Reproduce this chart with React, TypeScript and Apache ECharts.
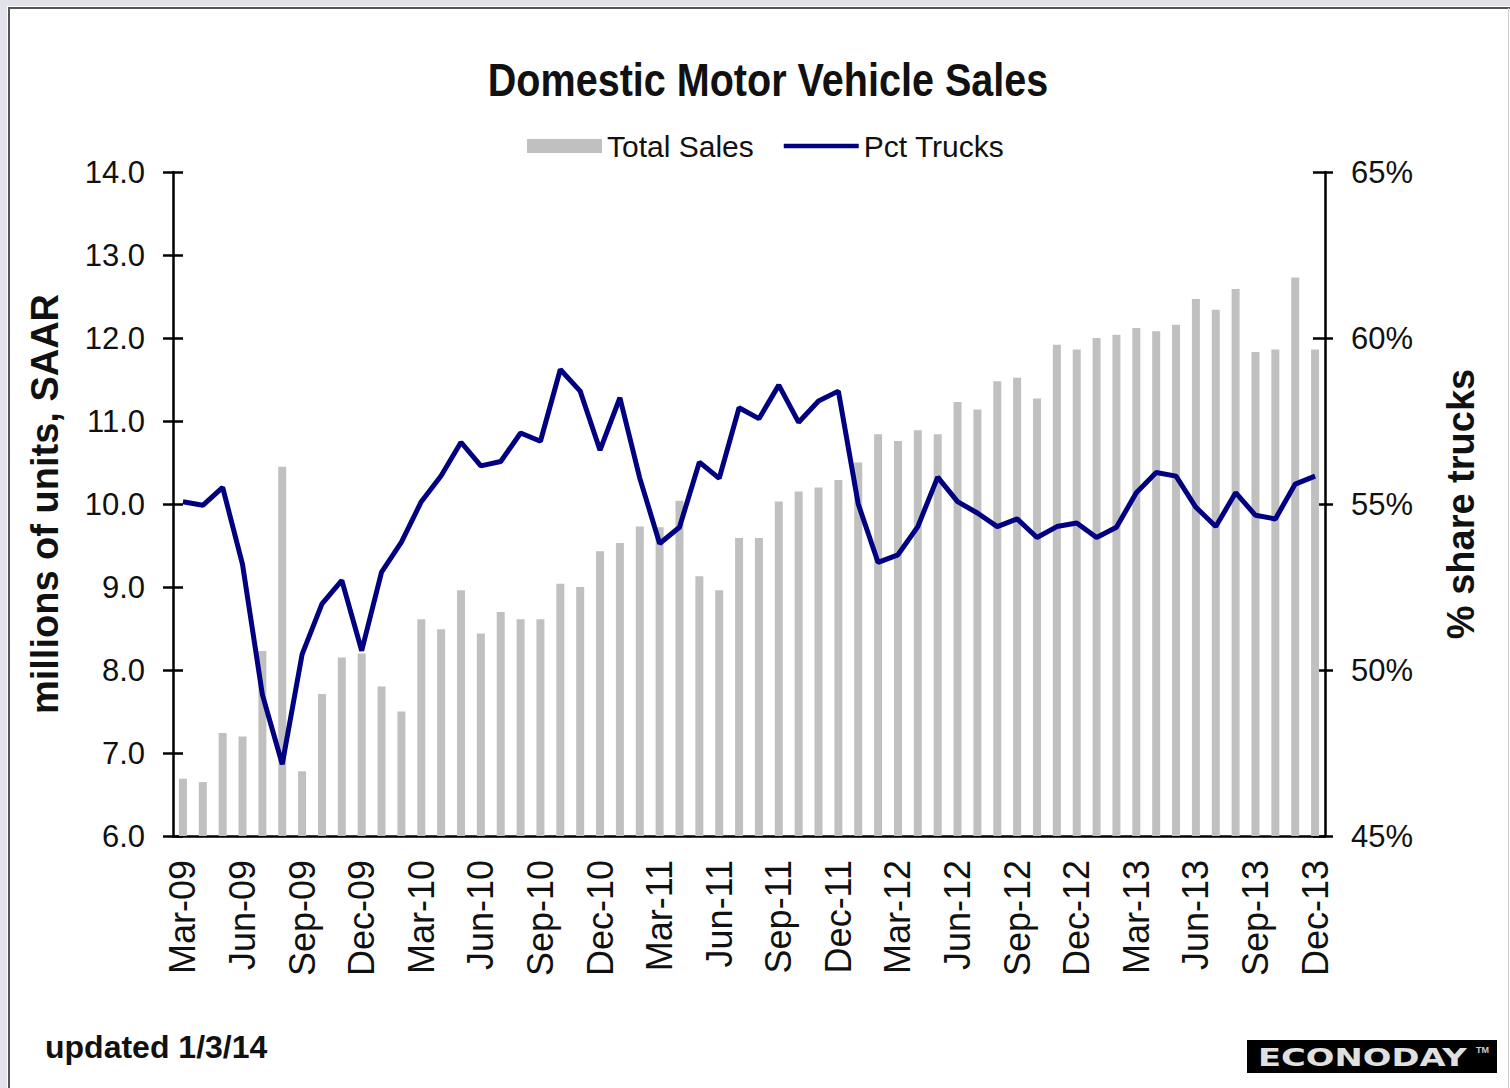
import React, { useEffect, useRef } from "react";
import * as echarts from "echarts";

const MONTHS = ["Jan", "Feb", "Mar", "Apr", "May", "Jun", "Jul", "Aug", "Sep", "Oct", "Nov", "Dec"];
const categories: string[] = [];
for (let y = 2009; y <= 2013; y++) {
  for (let m = 0; m < 12; m++) {
    if (y === 2009 && m < 2) continue;
    categories.push(`${MONTHS[m]}-${String(y).slice(2)}`);
  }
}

// Total sales, millions of units SAAR (Mar-09 .. Dec-13)
const totalSales = [
  6.69, 6.65, 7.24, 7.2, 8.23, 10.45, 6.78, 7.71, 8.15, 8.2,
  7.8, 7.5, 8.61, 8.49, 8.96, 8.44, 8.7, 8.61, 8.61, 9.04,
  9.0, 9.43, 9.53, 9.73, 9.72, 10.04, 9.13, 8.96, 9.59, 9.59,
  10.03, 10.15, 10.2, 10.29, 10.5, 10.84, 10.76, 10.89, 10.84, 11.23,
  11.14, 11.48, 11.52, 11.27, 11.92, 11.86, 12.0, 12.04, 12.12, 12.08,
  12.16, 12.47, 12.34, 12.59, 11.83, 11.86, 12.73, 11.86,
];

// Percent share of trucks
const pctTrucks = [
  55.07, 54.96, 55.5, 53.18, 49.26, 47.16, 50.47, 51.99, 52.7, 50.58,
  52.95, 53.85, 55.07, 55.85, 56.86, 56.15, 56.28, 57.14, 56.89, 59.05,
  58.4, 56.62, 58.2, 55.78, 53.81, 54.3, 56.26, 55.77, 57.9, 57.57,
  58.58, 57.46, 58.1, 58.4, 55.0, 53.24, 53.47, 54.32, 55.81, 55.07,
  54.73, 54.32, 54.55, 53.99, 54.32, 54.43, 53.99, 54.3, 55.34, 55.95,
  55.84, 54.9, 54.32, 55.34, 54.66, 54.55, 55.6, 55.84,
];

const FONT = "'Liberation Sans', Arial, sans-serif";

export default function App() {
  const ref = useRef<HTMLDivElement>(null);

  useEffect(() => {
    if (!ref.current) return;
    const chart = echarts.init(ref.current, null, { renderer: "svg" });
    const axisColor = "#000";
    chart.setOption({
      animation: false,
      backgroundColor: "#fff",
      textStyle: { fontFamily: FONT },
      grid: { left: 173, right: 185, top: 172, bottom: 252, containLabel: false },
      legend: {
        data: [
          { name: "Total Sales", icon: "rect" },
          { name: "Pct Trucks", icon: "path://M0 0H80V5H0Z" },
        ],
        left: 522,
        top: 126,
        itemWidth: 75,
        itemHeight: 14,
        itemGap: 30,
        textStyle: { fontSize: 30, color: "#111", fontFamily: FONT },
      },
      xAxis: [
        {
          type: "category",
          data: categories,
          boundaryGap: true,
          axisLine: { lineStyle: { color: axisColor, width: 2.5 } },
          axisTick: { interval: 2, length: 10, lineStyle: { color: axisColor, width: 2.5 } },
          axisLabel: {
            interval: 2,
            rotate: 90,
            fontSize: 36,
            color: "#111",
            margin: 24,
            fontFamily: FONT,
          },
          splitLine: { show: false },
        },
        {
          type: "category",
          data: categories,
          position: "bottom",
          boundaryGap: true,
          axisLine: { show: false },
          axisTick: { inside: true, interval: 2, length: 10, lineStyle: { color: axisColor, width: 2.5 } },
          axisLabel: { show: false },
          splitLine: { show: false },
        },
      ],
      yAxis: [
        {
          type: "value",
          position: "left",
          min: 6,
          max: 14,
          interval: 1,
          name: "millions of units, SAAR",
          nameLocation: "middle",
          nameRotate: 90,
          nameGap: 109,
          nameTextStyle: { fontSize: 38, fontWeight: "bold", color: "#111", fontFamily: FONT },
          axisLine: { show: true, lineStyle: { color: axisColor, width: 2.5 } },
          axisTick: { show: true, length: 10, lineStyle: { color: axisColor, width: 2.5 } },
          axisLabel: {
            fontSize: 31,
            color: "#111",
            margin: 28,
            fontFamily: FONT,
            formatter: (v: number) => v.toFixed(1),
          },
          splitLine: { show: false },
        },
        {
          type: "value",
          position: "right",
          min: 45,
          max: 65,
          interval: 5,
          name: "% share trucks",
          nameLocation: "middle",
          nameRotate: 90,
          nameGap: 117,
          nameTextStyle: { fontSize: 38, fontWeight: "bold", color: "#111", fontFamily: FONT },
          axisLine: { show: true, lineStyle: { color: axisColor, width: 2.5 } },
          axisTick: { show: true, length: 8, lineStyle: { color: axisColor, width: 2.5 } },
          axisLabel: {
            fontSize: 31,
            color: "#111",
            margin: 26,
            fontFamily: FONT,
            formatter: "{value}%",
          },
          splitLine: { show: false },
        },
        {
          type: "value",
          position: "left",
          min: 6,
          max: 14,
          interval: 1,
          axisLine: { show: false },
          axisTick: { show: true, inside: true, length: 10, lineStyle: { color: axisColor, width: 2.5 } },
          axisLabel: { show: false },
          splitLine: { show: false },
        },
        {
          type: "value",
          position: "right",
          min: 45,
          max: 65,
          interval: 5,
          axisLine: { show: false },
          axisTick: { show: true, inside: true, length: 12, lineStyle: { color: axisColor, width: 2.5 } },
          axisLabel: { show: false },
          splitLine: { show: false },
        },
      ],
      series: [
        {
          name: "Total Sales",
          type: "bar",
          data: totalSales,
          xAxisIndex: 0,
          yAxisIndex: 0,
          barWidth: 8,
          itemStyle: { color: "#c0c0c0" },
          z: 1,
        },
        {
          name: "Pct Trucks",
          type: "line",
          data: pctTrucks,
          xAxisIndex: 0,
          yAxisIndex: 1,
          symbol: "none",
          lineStyle: { color: "#000080", width: 5 },
          itemStyle: { color: "#000080" },
          z: 3,
        },
      ],
      graphic: [
        { type: "rect", shape: { x: 0, y: 0, width: 1510, height: 6 }, style: { fill: "#e2e2ea" }, silent: true },
        { type: "rect", shape: { x: 0, y: 0, width: 7, height: 1088 }, style: { fill: "#e2e2ea" }, silent: true },
        { type: "line", shape: { x1: 8, y1: 8, x2: 1510, y2: 8 }, style: { stroke: "#555", lineWidth: 2 }, silent: true },
        { type: "line", shape: { x1: 9, y1: 8, x2: 9, y2: 1088 }, style: { stroke: "#555", lineWidth: 2 }, silent: true },
        { type: "line", shape: { x1: 1508.5, y1: 8, x2: 1508.5, y2: 1088 }, style: { stroke: "#ccc", lineWidth: 1 }, silent: true },
        {
          type: "text",
          x: 768,
          y: 80,
          scaleX: 0.86,
          style: {
            text: "Domestic Motor Vehicle Sales",
            fontSize: 46,
            fontWeight: "bold",
            fontFamily: FONT,
            fill: "#111",
            align: "center",
            verticalAlign: "middle",
          },
        },
        {
          type: "text",
          x: 45,
          y: 1047,
          style: {
            text: "updated 1/3/14",
            fontSize: 32,
            fontWeight: "bold",
            fontFamily: FONT,
            fill: "#111",
            align: "left",
            verticalAlign: "middle",
          },
        },
        {
          type: "rect",
          shape: { x: 1247, y: 1040, width: 250, height: 33 },
          style: { fill: "#000" },
        },
        {
          type: "text",
          x: 1258,
          y: 1057,
          scaleX: 1.35,
          style: {
            text: "ECONODAY",
            fontSize: 25,
            fontWeight: "bold",
            fontFamily: "'DejaVu Sans', sans-serif",
            fill: "#e0e0e0",
            align: "left",
            verticalAlign: "middle",
          },
        },
        {
          type: "text",
          x: 1476,
          y: 1050,
          style: {
            text: "TM",
            fontSize: 9,
            fontWeight: "bold",
            fontFamily: FONT,
            fill: "#ccc",
            align: "left",
            verticalAlign: "middle",
          },
        },
      ],
    });
    return () => chart.dispose();
  }, []);

  return (
    <div
      ref={ref}
      style={{ position: "absolute", left: 0, top: 0, width: 1510, height: 1088 }}
    />
  );
}
